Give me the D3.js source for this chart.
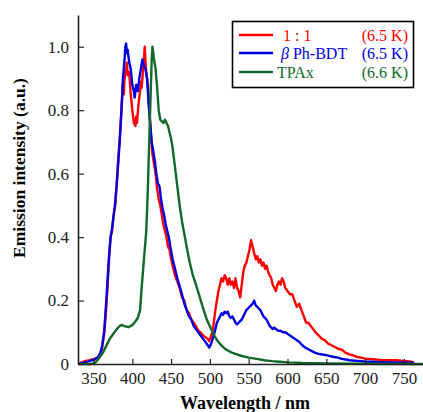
<!DOCTYPE html>
<html lang="en">
<head>
  <meta charset="UTF-8">
  <title>Emission spectra</title>
  <script src="https://cdn.jsdelivr.net/npm/d3@7"></script>
  <style>
    body { margin: 0; background: #fff; }
    svg text { font-family: "Liberation Serif", "Times New Roman", serif; }
  </style>
</head>
<body>
  <script>
    // wavelength (nm) / intensity (a.u.)
    const redWl  = [330,335,340,345,350,355,358,361,364,367,370,372,374,376,378,380,382,384,386,388,389,390,392,393,394,396,398,400,402,404,405,406,408,410,411,412,414,415,416,417,418,420,422,424,426,428,430,432,434,436,438,440,442,444,446,448,450,452,455,458,461,464,467,470,473,476,479,482,485,488,491,494,497,499,501,503,505,507,509,511,513,515,517,519,521,523,525,527,529,531,533,535,537,539,541,543,545,547,549,551,553,555,557,559,561,563,565,567,569,571,573,575,577,579,581,583,585,587,589,591,593,595,597,600,603,606,609,612,615,618,621,624,627,630,633,636,640,644,648,652,656,660,665,670,675,680,685,690,695,700,710,720,730,740,750,760,763];
    const redVal = [0,0.005,0.01,0.012,0.015,0.02,0.025,0.05,0.1,0.2,0.33,0.4,0.42,0.47,0.5,0.57,0.65,0.72,0.8,0.89,0.85,0.9,0.93,0.95,0.91,0.92,0.85,0.8,0.76,0.75,0.78,0.76,0.82,0.86,0.89,0.87,0.93,0.96,1.0,0.95,0.92,0.88,0.8,0.72,0.66,0.63,0.6,0.55,0.52,0.5,0.47,0.44,0.42,0.4,0.37,0.36,0.33,0.31,0.28,0.26,0.24,0.21,0.2,0.17,0.16,0.14,0.13,0.12,0.105,0.1,0.09,0.085,0.08,0.072,0.085,0.1,0.13,0.17,0.2,0.23,0.25,0.27,0.26,0.28,0.27,0.25,0.27,0.25,0.26,0.24,0.27,0.24,0.23,0.21,0.25,0.29,0.31,0.32,0.34,0.36,0.39,0.37,0.35,0.33,0.34,0.32,0.33,0.31,0.32,0.3,0.31,0.29,0.28,0.27,0.25,0.24,0.23,0.25,0.26,0.25,0.27,0.26,0.24,0.23,0.22,0.22,0.2,0.18,0.19,0.17,0.15,0.13,0.13,0.12,0.11,0.1,0.09,0.08,0.075,0.065,0.06,0.055,0.048,0.045,0.035,0.03,0.027,0.022,0.02,0.017,0.015,0.013,0.012,0.012,0.01,0.007,0.004];

    const blueWl  = [330,335,340,345,350,355,358,361,364,367,370,372,374,376,378,380,382,384,386,388,390,391,392,393,394,396,398,400,402,403,405,407,409,411,413,415,417,419,421,423,425,427,429,431,433,435,437,439,441,443,445,447,449,452,455,458,461,464,467,470,473,476,479,482,485,488,491,494,497,499,501,503,505,507,509,511,513,515,517,519,521,523,525,527,529,531,533,535,537,539,541,543,545,547,549,551,553,555,557,559,561,563,565,567,569,571,573,575,577,579,581,583,585,588,591,594,597,600,603,606,609,612,615,618,621,624,628,632,636,640,645,650,655,660,665,670,675,680,690,700,710,720,740,760,763];
    const blueVal = [0,0.003,0.006,0.01,0.013,0.02,0.03,0.055,0.11,0.22,0.34,0.4,0.43,0.47,0.51,0.57,0.64,0.71,0.8,0.9,0.96,1.0,1.01,0.98,0.99,0.95,0.93,0.88,0.86,0.84,0.88,0.86,0.9,0.93,0.96,0.94,0.93,0.9,0.82,0.76,0.7,0.67,0.64,0.6,0.57,0.56,0.52,0.49,0.47,0.44,0.42,0.4,0.37,0.33,0.3,0.27,0.245,0.22,0.19,0.17,0.15,0.14,0.12,0.11,0.1,0.09,0.08,0.07,0.06,0.052,0.06,0.075,0.09,0.11,0.13,0.14,0.15,0.16,0.155,0.165,0.16,0.165,0.15,0.145,0.15,0.14,0.13,0.125,0.13,0.135,0.14,0.15,0.16,0.17,0.175,0.18,0.185,0.19,0.2,0.185,0.18,0.175,0.17,0.16,0.15,0.145,0.14,0.13,0.12,0.115,0.11,0.115,0.11,0.105,0.105,0.1,0.1,0.095,0.09,0.085,0.08,0.075,0.07,0.062,0.055,0.05,0.045,0.04,0.035,0.032,0.03,0.028,0.025,0.022,0.02,0.016,0.014,0.012,0.01,0.008,0.007,0.006,0.005,0.004,0.003];

    const greenWl  = [330,345,350,353,356,359,362,365,368,371,374,377,380,383,386,389,392,395,398,401,404,407,410,412,414,416,418,420,422,424,425,426,427,428,430,432,434,436,438,440,442,444,446,448,450,452,454,456,458,461,464,467,470,474,478,482,487,492,496,500,505,510,515,520,525,530,540,550,560,570,580,590,600,620,650,700,775];
    const greenVal = [0,0,0.002,0.006,0.015,0.025,0.035,0.05,0.065,0.08,0.09,0.1,0.11,0.118,0.123,0.12,0.118,0.116,0.12,0.125,0.135,0.145,0.17,0.24,0.3,0.36,0.42,0.55,0.72,0.88,0.96,1.0,0.98,0.96,0.93,0.87,0.8,0.77,0.765,0.76,0.77,0.76,0.75,0.73,0.71,0.68,0.64,0.6,0.56,0.5,0.45,0.41,0.37,0.32,0.28,0.25,0.21,0.17,0.14,0.118,0.092,0.072,0.058,0.047,0.04,0.034,0.026,0.02,0.016,0.012,0.009,0.007,0.005,0.003,0.002,0.001,0];

    const xTicks = [350,400,450,500,550,600,650,700,750];
    const yTicks = [0,0.2,0.4,0.6,0.8,1.0];

    const legendNames = ["1 : 1", "Ph-BDT", "TPAx"];
    const legendTemps = ["(6.5 K)", "(6.5 K)", "(6.6 K)"];
    const colors = ["#ff0000", "#0000e0", "#11692a"];

    const w = 423, h = 412;
    const mLeft = 78, mRight = 423.3, mTop = 15, mBottom = 364;
    const serif = "'Liberation Serif', 'Times New Roman', serif";

    const x = d3.scaleLinear().domain([330, 775]).range([mLeft, mRight]);
    const y = d3.scaleLinear().domain([0, 1.1]).range([mBottom, mTop]);

    const svg = d3.select("body").append("svg")
      .attr("width", w).attr("height", h);

    svg.append("clipPath").attr("id", "plot")
      .append("rect")
      .attr("x", mLeft).attr("y", mTop)
      .attr("width", mRight - mLeft).attr("height", mBottom - mTop + 2);

    const series = [
      { wl: redWl, val: redVal, color: colors[0] },
      { wl: blueWl, val: blueVal, color: colors[1] },
      { wl: greenWl, val: greenVal, color: colors[2] }
    ];

    const line = d3.line()
      .x(d => x(d[0]))
      .y(d => y(d[1]));

    svg.append("g").attr("clip-path", "url(#plot)")
      .selectAll("path")
      .data(series)
      .enter().append("path")
      .attr("d", s => line(s.wl.map((v, i) => [v, s.val[i]])))
      .attr("fill", "none")
      .attr("stroke", s => s.color)
      .attr("stroke-width", 2.4)
      .attr("stroke-linejoin", "round");

    // axes, ticks pointing inward
    const xAxis = d3.axisBottom(x)
      .tickValues(xTicks)
      .tickSizeInner(-5)
      .tickSizeOuter(0)
      .tickPadding(8);

    const yAxis = d3.axisLeft(y)
      .tickValues(yTicks)
      .tickSizeInner(-6)
      .tickSizeOuter(0)
      .tickPadding(9)
      .tickFormat(d => d === 0 ? "0" : d3.format(".1f")(d));

    const gx = svg.append("g")
      .attr("transform", `translate(0,${mBottom})`)
      .call(xAxis);
    const gy = svg.append("g")
      .attr("transform", `translate(${mLeft},0)`)
      .call(yAxis);

    [gx, gy].forEach(g => {
      g.attr("font-family", serif).attr("font-size", 17);
      g.select(".domain").attr("stroke", "#222").attr("stroke-width", 1.6);
      g.selectAll(".tick line").attr("stroke", "#222").attr("stroke-width", 1.2);
      g.selectAll(".tick text").attr("fill", "#222");
    });

    // axis titles
    svg.append("text")
      .attr("x", 245).attr("y", 409)
      .attr("text-anchor", "middle")
      .attr("font-size", 18)
      .attr("font-weight", "bold")
      .text("Wavelength / nm");

    svg.append("text")
      .attr("transform", "translate(25,168) rotate(-90)")
      .attr("text-anchor", "middle")
      .attr("font-size", 17.5)
      .attr("font-weight", "bold")
      .text("Emission intensity (a.u.)");

    // legend
    const legend = svg.append("g");
    legend.append("rect")
      .attr("x", 232.5).attr("y", 21.5)
      .attr("width", 181).attr("height", 66)
      .attr("fill", "#fff")
      .attr("stroke", "#000")
      .attr("stroke-width", 1.6);

    const rowY = [35, 53, 72];
    legendNames.forEach((name, i) => {
      const row = legend.append("g");
      row.append("line")
        .attr("x1", 239).attr("x2", 273)
        .attr("y1", rowY[i]).attr("y2", rowY[i])
        .attr("stroke", colors[i]).attr("stroke-width", 2.4);
      const t = row.append("text")
        .attr("x", i === 0 ? 283 : (i === 1 ? 281 : 277))
        .attr("y", rowY[i] + 5.5)
        .attr("font-size", 16)
        .attr("fill", colors[i]);
      if (i === 1) {
        t.append("tspan").attr("font-style", "italic").text("β");
        t.append("tspan").text(" " + name);
      } else {
        t.text(name);
      }
      row.append("text")
        .attr("x", 408).attr("y", rowY[i] + 5.5)
        .attr("text-anchor", "end")
        .attr("font-size", 16)
        .attr("fill", colors[i])
        .text(legendTemps[i]);
    });
  </script>
</body>
</html>
